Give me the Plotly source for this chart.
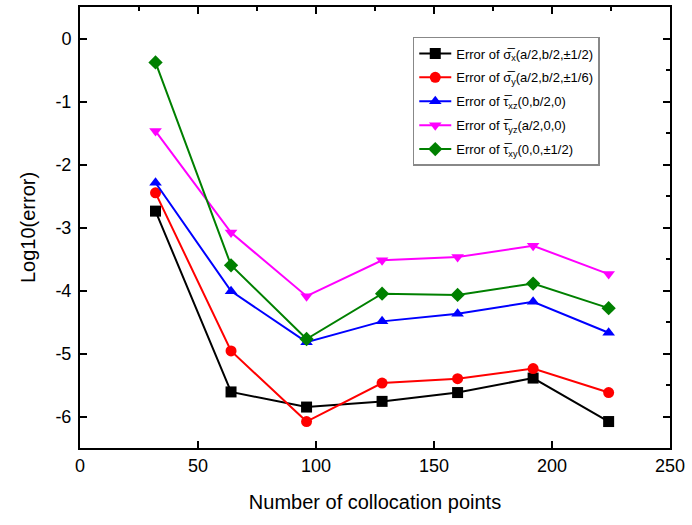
import plotly.graph_objects as go

# Number of collocation points
points = [32, 64, 96, 128, 160, 192, 224]

# log10 of the error for each stress component
err_sigma_x = [-2.74, -5.61, -5.85, -5.76, -5.62, -5.39, -6.08]
err_sigma_y = [-2.45, -4.96, -6.08, -5.47, -5.40, -5.24, -5.62]
err_tau_xz = [-2.29, -4.01, -4.82, -4.49, -4.37, -4.18, -4.67]
err_tau_yz = [-1.47, -3.08, -4.09, -3.52, -3.47, -3.29, -3.74]
err_tau_xy = [-0.38, -3.60, -4.77, -4.05, -4.07, -3.89, -4.28]

# axis ticks
x_ticks = [0, 50, 100, 150, 200, 250]
y_ticks = [0, -1, -2, -3, -4, -5, -6]
y_ticktext = ["0", "-1", "-2", "-3", "-4", "-5", "-6"]

series = [
    ("Error of σ̅<sub>x</sub>(a/2,b/2,±1/2)", err_sigma_x, "black", "square"),
    ("Error of σ̅<sub>y</sub>(a/2,b/2,±1/6)", err_sigma_y, "red", "circle"),
    ("Error of τ̅<sub>xz</sub>(0,b/2,0)", err_tau_xz, "blue", "triangle-up"),
    ("Error of τ̅<sub>yz</sub>(a/2,0,0)", err_tau_yz, "magenta", "triangle-down"),
    ("Error of τ̅<sub>xy</sub>(0,0,±1/2)", err_tau_xy, "green", "diamond"),
]

fig = go.Figure()
for i, (name, vals, color, symbol) in enumerate(series):
    fig.add_trace(go.Scatter(
        x=points, y=vals, name=name, mode="lines+markers",
        legendgroup=f"g{i}",
        line=dict(color=color, width=2),
        marker=dict(symbol=symbol, size=11, color=color),
    ))

font = "Liberation Sans, Arial, sans-serif"
axis_common = dict(
    showline=True, linecolor="black", linewidth=2,
    ticks="inside", ticklen=7, tickwidth=1.5, tickcolor="black",
    showgrid=False, zeroline=False,
)

fig.update_layout(
    width=692, height=525,
    margin=dict(l=80, r=20, t=7, b=77),
    paper_bgcolor="white", plot_bgcolor="white",
    font=dict(family=font, color="black"),
    showlegend=True,
    legend=dict(
        x=0.564, y=0.932, xanchor="left", yanchor="top",
        bordercolor="#888", borderwidth=1.5, bgcolor="white",
        font=dict(size=13, family=font),
        itemwidth=32, tracegroupgap=4,
    ),
    xaxis=dict(
        range=[0, 250], tickvals=x_ticks,
        tickfont=dict(size=18),
        title=dict(text="Number of collocation points", font=dict(size=20), standoff=20),
        **axis_common,
    ),
    yaxis=dict(
        range=[-6.5, 0.5], tickvals=y_ticks, ticktext=y_ticktext,
        tickfont=dict(size=18), ticklabelstandoff=3,
        title=dict(text="Log10(error)", font=dict(size=20), standoff=14),
        **axis_common,
    ),
    # frame on top and right with finer ticks
    xaxis2=dict(
        overlaying="x", side="top", range=[0, 250], matches="x",
        tickvals=x_ticks, showticklabels=False,
        minor=dict(ticks="inside", ticklen=4, tickcolor="black", dtick=25),
        **axis_common,
    ),
    yaxis2=dict(
        overlaying="y", side="right", range=[-6.5, 0.5], matches="y",
        tickvals=y_ticks, showticklabels=False,
        minor=dict(ticks="inside", ticklen=4, tickcolor="black", dtick=0.5),
        **axis_common,
    ),
)
# invisible trace to activate the mirror axes
fig.add_trace(go.Scatter(x=[None], y=[None], xaxis="x2", yaxis="y2",
                         showlegend=False, hoverinfo="skip"))

fig.write_html("out.html")
